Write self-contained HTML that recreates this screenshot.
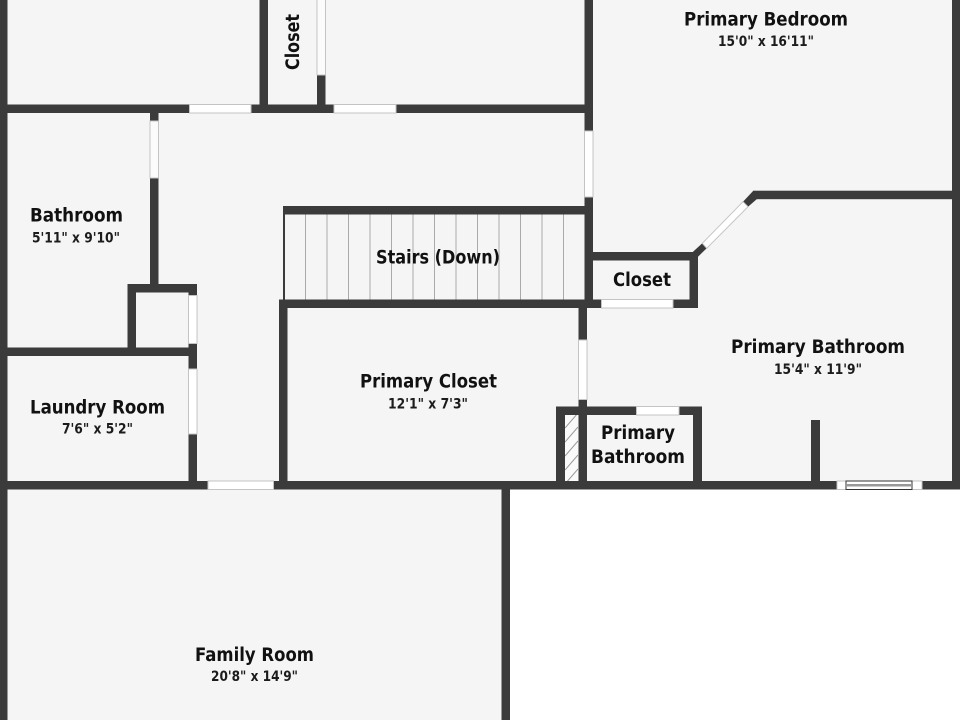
<!DOCTYPE html>
<html><head><meta charset="utf-8"><style>
html,body{margin:0;padding:0;background:#fff}
svg{display:block}
text{font-family:"DejaVu Sans","Liberation Sans",sans-serif;fill:#111}
.t{font-size:18.5px;font-weight:700;text-anchor:start}
.s{font-size:14.5px;font-weight:700;fill:#1c1c1c}
</style></head><body>
<svg width="960" height="720" viewBox="0 0 960 720" xmlns="http://www.w3.org/2000/svg">
<rect width="960" height="720" fill="#fff"/>
<rect x="0" y="0" width="960" height="485" fill="#f5f5f5"/>
<rect x="0" y="485" width="506" height="235" fill="#f5f5f5"/>
<!-- stairs -->
<g stroke="#aaa" stroke-width="1">
<path d="M305.5 214V300M327 214V300M348.500 214V300M370 214V300M391.500 214V300M413 214V300M434.500 214V300M456 214V300M477.500 214V300M499 214V300M520.500 214V300M542 214V300M563.500 214V300"/>
</g>
<!-- hatch -->
<rect x="565" y="415" width="13" height="66" fill="#fafafa"/>
<clipPath id="h"><rect x="565" y="415" width="13" height="66"/></clipPath>
<g stroke="#999" stroke-width="1" clip-path="url(#h)">
<path d="M565 428L578 413M565 442L578 427M565 456L578 441M565 470L578 455M565 484L578 469M565 498L578 483"/>
</g>
<!-- walls -->
<g fill="#3b3b3b">
<rect x="0" y="0" width="7.500" height="720"/>
<rect x="952" y="0" width="8" height="489"/>
<rect x="0" y="104.500" width="589" height="8.500"/>
<rect x="259.500" y="0" width="8.500" height="105"/>
<rect x="317" y="75" width="8.500" height="30"/>
<rect x="584.500" y="0" width="8.500" height="303"/>
<rect x="283" y="206" width="302" height="8.500"/>
<rect x="283" y="214" width="2" height="86"/>
<rect x="279" y="299.500" width="314" height="8.500"/>
<rect x="279" y="300" width="8.500" height="185"/>
<rect x="150" y="113" width="8.500" height="172"/>
<rect x="127.500" y="284" width="69.500" height="8.500"/>
<rect x="127.500" y="284" width="8.500" height="66"/>
<rect x="188.500" y="284" width="8.500" height="201"/>
<rect x="0" y="347.500" width="190" height="8.500"/>
<rect x="0" y="481" width="960" height="8.500"/>
<rect x="501.500" y="489" width="8.500" height="231"/>
<rect x="590" y="252" width="108" height="8.500"/>
<rect x="689.500" y="252" width="8.500" height="56"/>
<rect x="590" y="299.500" width="108" height="8.500"/>
<rect x="578.500" y="305" width="8.500" height="176"/>
<rect x="556" y="406.500" width="146" height="8.500"/>
<rect x="556" y="406.500" width="9" height="75"/>
<rect x="693" y="406.500" width="9" height="75"/>
<rect x="811" y="420" width="9" height="62"/>
<rect x="753" y="190.700" width="199" height="8.500"/>
<path d="M702.300 243.300L706.700 248.300L698 256.700L693 251.700Z"/>
<path d="M753.300 190.700L756.700 199.200L748 206.700L743 201.700Z"/>
</g>
<!-- diagonal window -->
<path d="M702.300 243.300L743 201.700L748 206.700L706.700 248.300Z" fill="#fff" stroke="#c4c4c4" stroke-width="1"/>
<!-- doors and windows -->
<g fill="#fff" stroke="#c4c4c4" stroke-width="1">
<rect x="189.500" y="104.500" width="61.500" height="8.500"/>
<rect x="334" y="104.500" width="62" height="8.500"/>
<rect x="317" y="-2" width="8.500" height="77" fill="#fbfbfb"/>
<rect x="150" y="121" width="8.500" height="57" fill="#fbfbfb"/>
<rect x="584.500" y="131" width="8.500" height="66"/>
<rect x="188.500" y="295.500" width="8.500" height="48"/>
<rect x="188.500" y="369" width="8.500" height="65"/>
<rect x="208" y="481" width="65.500" height="8.500"/>
<rect x="601.500" y="299.500" width="71.500" height="8.500"/>
<rect x="578.500" y="340" width="8.500" height="59.500"/>
<rect x="636.500" y="406.500" width="42.500" height="8.500"/>
<rect x="837" y="481" width="85" height="8.500"/>
</g>
<rect x="846" y="481" width="66" height="8.500" fill="#fff" stroke="#333" stroke-width="1"/>
<rect x="846" y="484" width="66" height="2.500" fill="#999"/>
<!-- labels -->
<text class="t" x="684" y="25.500" textLength="164" lengthAdjust="spacingAndGlyphs">Primary Bedroom</text>
<text class="s" x="718" y="46" textLength="96" lengthAdjust="spacingAndGlyphs">15'0" x 16'11"</text>
<text class="t" x="30" y="221.500" textLength="93" lengthAdjust="spacingAndGlyphs">Bathroom</text>
<text class="s" x="32" y="242.500" textLength="88" lengthAdjust="spacingAndGlyphs">5'11" x 9'10"</text>
<text class="t" x="376" y="263.500" textLength="124" lengthAdjust="spacingAndGlyphs">Stairs (Down)</text>
<text class="t" x="613" y="286" textLength="58" lengthAdjust="spacingAndGlyphs">Closet</text>
<text class="t" x="731" y="353" textLength="174" lengthAdjust="spacingAndGlyphs">Primary Bathroom</text>
<text class="s" x="774" y="374" textLength="88" lengthAdjust="spacingAndGlyphs">15'4" x 11'9"</text>
<text class="t" x="360" y="387.500" textLength="137" lengthAdjust="spacingAndGlyphs">Primary Closet</text>
<text class="s" x="388" y="408.500" textLength="80" lengthAdjust="spacingAndGlyphs">12'1" x 7'3"</text>
<text class="t" x="30" y="413.500" textLength="135" lengthAdjust="spacingAndGlyphs">Laundry Room</text>
<text class="s" x="62" y="433.500" textLength="71" lengthAdjust="spacingAndGlyphs">7'6" x 5'2"</text>
<text class="t" x="601" y="439" textLength="74" lengthAdjust="spacingAndGlyphs">Primary</text>
<text class="t" x="591" y="463" textLength="94" lengthAdjust="spacingAndGlyphs">Bathroom</text>
<text class="t" x="195" y="661" textLength="119" lengthAdjust="spacingAndGlyphs">Family Room</text>
<text class="s" x="211" y="681" textLength="87" lengthAdjust="spacingAndGlyphs">20'8" x 14'9"</text>
<text class="t" transform="translate(299,70) rotate(-90)" textLength="56" lengthAdjust="spacingAndGlyphs">Closet</text>
</svg>
</body></html>
